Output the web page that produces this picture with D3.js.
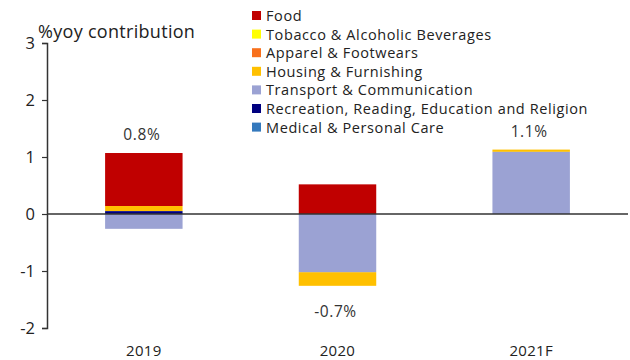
<!DOCTYPE html>
<html>
<head>
<meta charset="utf-8">
<script src="https://cdn.jsdelivr.net/npm/d3@7"></script>
<style>
  html, body { margin: 0; padding: 0; background: #fff; }
  svg { display: block; font-family: "Open Sans", "Noto Sans", sans-serif; }
</style>
</head>
<body>
<svg id="chart" width="630" height="360"></svg>
<script>
// Categories (years) and contribution of each CPI group, %yoy points
const years = ["2019", "2020", "2021F"];
const groups = [
  "Food",
  "Tobacco & Alcoholic Beverages",
  "Apparel & Footwears",
  "Housing & Furnishing",
  "Transport & Communication",
  "Recreation, Reading, Education and Religion",
  "Medical & Personal Care"
];
const colors = ["#C00000", "#FFFF00", "#F8701C", "#FFC000", "#9BA2D3", "#00007F", "#3479BD"];

const food       = [0.93, 0.52, 0.00];
const tobacco    = [0.00, 0.00, 0.00];
const apparel    = [0.00, 0.00, 0.00];
const housing    = [0.09, -0.24, 0.04];
const transport  = [-0.26, -1.02, 1.09];
const recreation = [0.05, 0.00, 0.00];
const medical    = [0.00, 0.00, 0.00];

// Headline inflation labels shown beside each bar
const totalLabels = ["0.8%", "-0.7%", "1.1%"];
const totals = [0.8, -0.7, 1.1];

const yTicks = [-2, -1, 0, 1, 2, 3];

const seriesValues = [food, tobacco, apparel, housing, transport, recreation, medical];
const rows = years.map((yr, i) => {
  const r = { year: yr };
  groups.forEach((g, k) => { r[g] = seriesValues[k][i]; });
  return r;
});

const svg = d3.select("#chart");
const plotLeft = 47, plotRight = 628, plotTop = 43, plotBottom = 328;

const x = d3.scaleBand().domain(years).range([plotLeft, plotRight]).paddingInner(0.6).paddingOuter(0.3);
const y = d3.scaleLinear().domain([-2, 3]).range([plotBottom, plotTop]);

// Stacked bars: last group sits next to zero, first group on the outside
const stack = d3.stack().keys(groups).order(d3.stackOrderReverse).offset(d3.stackOffsetDiverging);
const layers = stack(rows);

svg.append("g").selectAll("g")
  .data(layers)
  .join("g")
  .attr("fill", d => colors[groups.indexOf(d.key)])
  .selectAll("rect")
  .data(d => d.filter(s => s[1] !== s[0]))
  .join("rect")
  .attr("x", d => x(d.data.year))
  .attr("width", x.bandwidth())
  .attr("y", d => y(Math.max(d[0], d[1])))
  .attr("height", d => Math.abs(y(d[0]) - y(d[1])));

// Y axis
const yAxis = svg.append("g")
  .attr("transform", `translate(${plotLeft},0)`)
  .call(d3.axisLeft(y).tickValues(yTicks).tickSize(5).tickSizeOuter(5).tickPadding(7).tickFormat(d => String(d)));
yAxis.select(".domain").attr("stroke", "#333").attr("stroke-width", 1.5);
yAxis.selectAll(".tick line").attr("stroke", "#333").attr("stroke-width", 1.2);
yAxis.selectAll(".tick text").attr("font-size", 16.5).attr("fill", "#222")
  .attr("font-family", "Open Sans, Noto Sans, sans-serif");

// Zero line
svg.append("line")
  .attr("x1", plotLeft).attr("x2", plotRight)
  .attr("y1", y(0)).attr("y2", y(0))
  .attr("stroke", "#333").attr("stroke-width", 1.5);

// Category labels
svg.append("g").selectAll("text")
  .data(years)
  .join("text")
  .attr("x", d => x(d) + x.bandwidth() / 2)
  .attr("y", 356)
  .attr("text-anchor", "middle")
  .attr("font-size", 15)
  .attr("letter-spacing", 0.3)
  .attr("fill", "#222")
  .text(d => d);

// Total labels: above the bar for gains, below for declines
const stackTop = years.map((_, i) => d3.max(layers, l => l[i][1]));
const stackBottom = years.map((_, i) => d3.min(layers, l => l[i][0]));
svg.append("g").selectAll("text")
  .data(years)
  .join("text")
  .attr("x", d => x(d) + x.bandwidth() / 2 - 2)
  .attr("y", (d, i) => totals[i] >= 0 ? y(stackTop[i]) - 13 : y(stackBottom[i]) + 31)
  .attr("text-anchor", "middle")
  .attr("font-size", 15.5)
  .attr("letter-spacing", 0.6)
  .attr("fill", "#333")
  .text((d, i) => totalLabels[i]);

// Axis title
svg.append("text")
  .attr("x", 38).attr("y", 38)
  .attr("font-size", 18)
  .attr("letter-spacing", 0.3)
  .attr("fill", "#222")
  .text("%yoy contribution");

// Legend
const legend = svg.append("g").attr("transform", "translate(252,11)");
const item = legend.selectAll("g")
  .data(groups)
  .join("g")
  .attr("transform", (d, i) => `translate(0,${i * 18.6})`);
item.append("rect")
  .attr("width", 9).attr("height", 9)
  .attr("fill", (d, i) => colors[i]);
item.append("text")
  .attr("x", 14).attr("y", 10)
  .attr("font-size", 14.5)
  .attr("letter-spacing", 0.6)
  .attr("fill", "#222")
  .text(d => d);
</script>
</body>
</html>
